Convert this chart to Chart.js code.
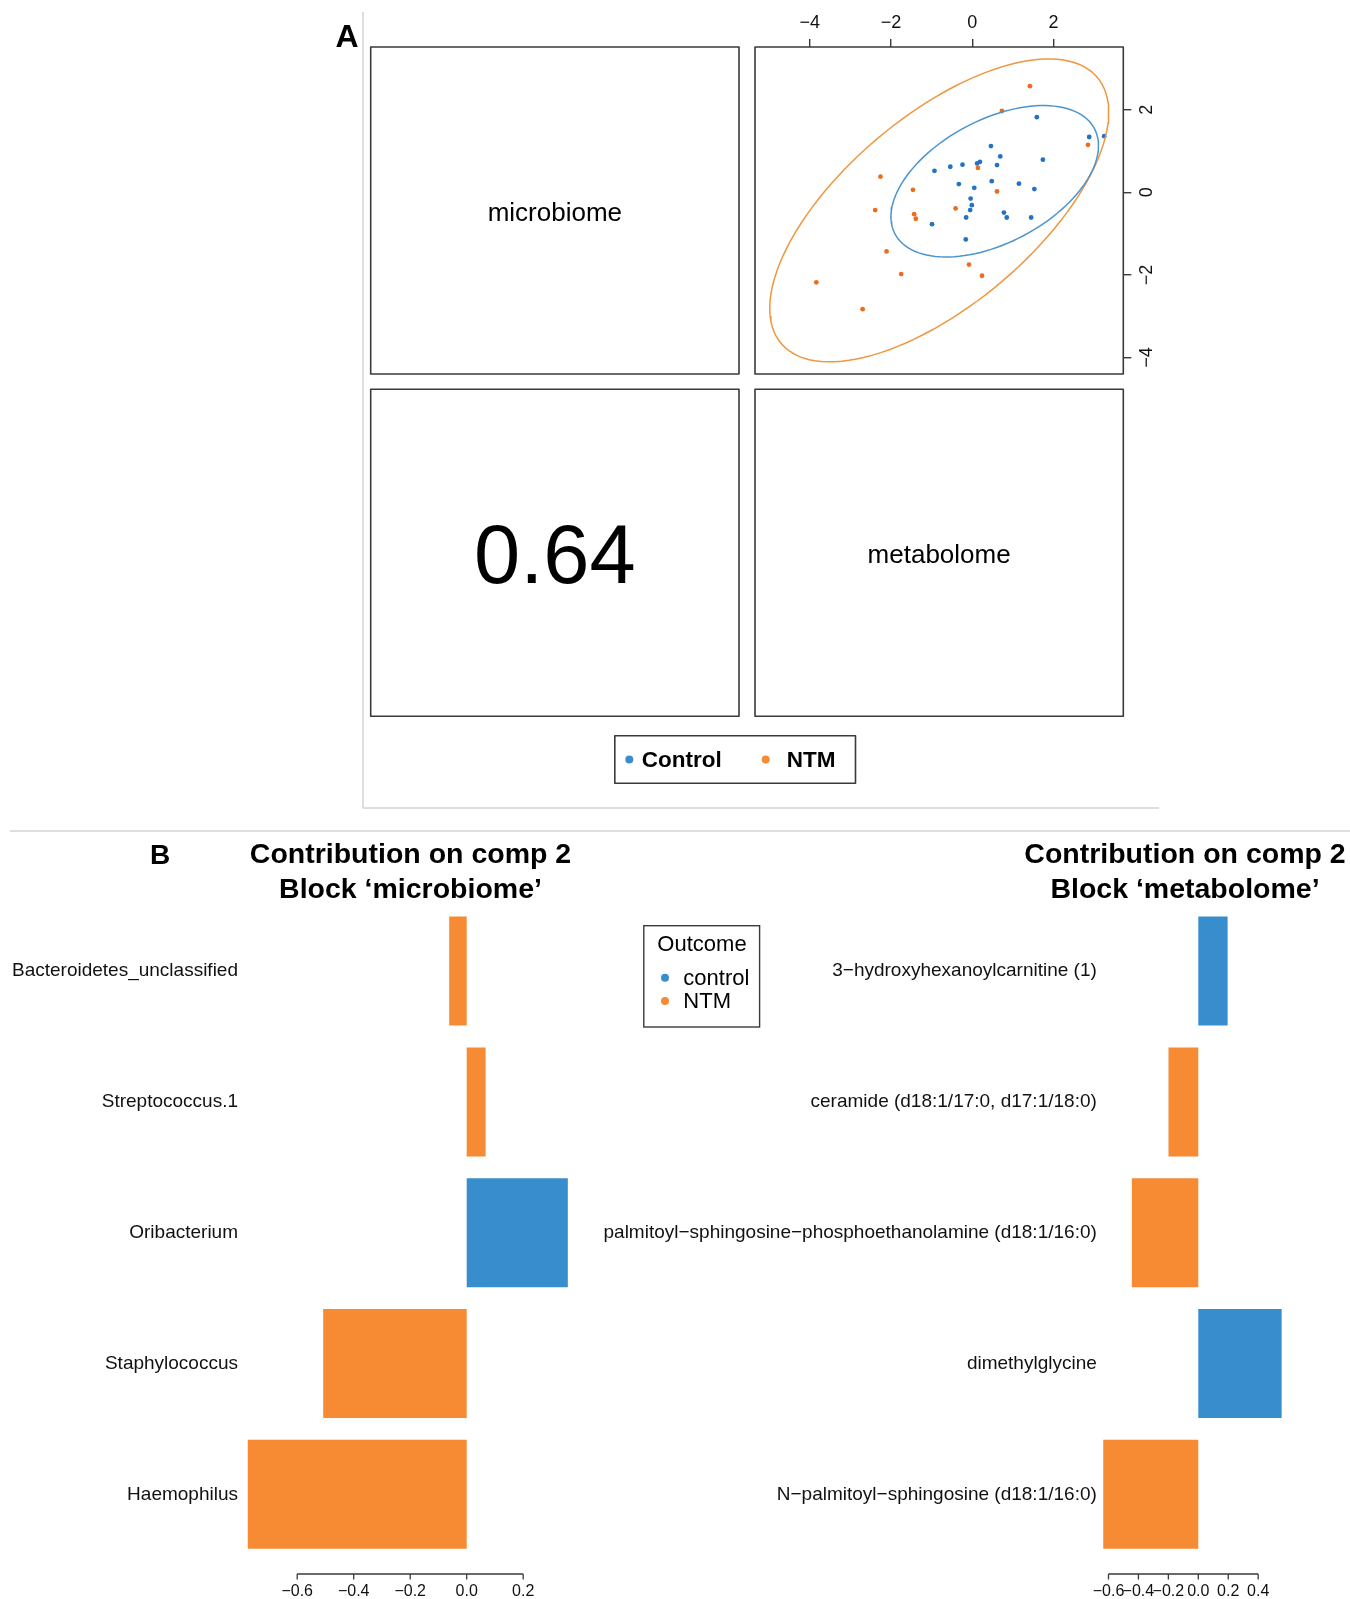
<!DOCTYPE html>
<html>
<head>
<meta charset="utf-8">
<title>DIABLO: block correlation and loadings on component 2</title>
<script src="https://cdn.jsdelivr.net/npm/chart.js@4.4.1/dist/chart.umd.min.js"></script>
<style>
  html, body { margin: 0; padding: 0; background: #fff; }
  body { width: 1350px; height: 1599px; position: relative; overflow: hidden; }
  canvas { position: absolute; }
  #cA { left: 0; top: 0; }
  #cL { left: 0; top: 835px; }
  #cR { left: 560px; top: 835px; }
</style>
</head>
<body>
<canvas id="cA" width="1350" height="840"></canvas>
<canvas id="cL" width="600" height="764"></canvas>
<canvas id="cR" width="790" height="764"></canvas>
<script>
// ---------------- data ----------------
// Panel A: sample scores, microbiome component (x) vs metabolome component (y)
const controlX = [1.59, 2.88, 3.25, 0.46, 0.69, 1.74, -0.93, -0.54, -0.24, 0.19, 0.12, 0.61, -0.33,
                  0.05, 0.48, 1.15, 1.53, -0.04, -0.01, -0.05, -0.15, 0.78, 0.85, 1.45, -0.99, -0.16];
const controlY = [1.82, 1.34, 1.36, 1.12, 0.87, 0.79, 0.52, 0.62, 0.67, 0.74, 0.70, 0.66, 0.20,
                  0.11, 0.27, 0.21, 0.08, -0.15, -0.31, -0.43, -0.61, -0.49, -0.61, -0.61, -0.77, -1.14];
const ntmX = [1.42, 0.73, 2.85, 0.14, -2.26, -1.46, 0.61, -2.39, -0.41, -1.43, -1.39, -2.11, -1.75,
              -0.08, 0.24, -3.84, -2.70];
const ntmY = [2.57, 1.97, 1.15, 0.59, 0.38, 0.06, 0.02, -0.43, -0.39, -0.53, -0.64, -1.43, -1.98,
              -1.75, -2.02, -2.18, -2.83];
const scatterTicks = [-4, -2, 0, 2];
const blockNames = ['microbiome', 'metabolome'];
const blockCorrelation = '0.64';
const legendGroups = ['Control', 'NTM'];

// Panel B: contributions on component 2
const microbeNames = ['Bacteroidetes_unclassified', 'Streptococcus.1', 'Oribacterium', 'Staphylococcus', 'Haemophilus'];
const microbeValues = [-0.062, 0.067, 0.358, -0.508, -0.775];
const microbeGroups = ['NTM', 'NTM', 'control', 'NTM', 'NTM'];
const microbeTicks = [-0.6, -0.4, -0.2, 0.0, 0.2];

const metabNames = ['3\u2212hydroxyhexanoylcarnitine (1)', 'ceramide (d18:1/17:0, d17:1/18:0)',
                    'palmitoyl\u2212sphingosine\u2212phosphoethanolamine (d18:1/16:0)', 'dimethylglycine',
                    'N\u2212palmitoyl\u2212sphingosine (d18:1/16:0)'];
const metabValues = [0.196, -0.199, -0.444, 0.557, -0.635];
const metabGroups = ['control', 'NTM', 'NTM', 'control', 'NTM'];
const metabTicks = [-0.6, -0.4, -0.2, 0.0, 0.2, 0.4];
const outcomeGroups = ['control', 'NTM'];

// ---------------- styles ----------------
const FONT = "'Liberation Sans', Arial, Helvetica, sans-serif";
Chart.defaults.font.family = FONT;
Chart.defaults.color = '#000';
const BLUE = '#388ECC', ORANGE = '#F68B33';
const groupColor = { control: BLUE, Control: BLUE, NTM: ORANGE };
const pointColor = { Control: '#2372c4', NTM: '#ec6d22' };
const ellipseColor = { Control: '#4a94cf', NTM: '#f0963e' };
const BOX = '#3a3a3a';

function font(size, bold) { return (bold ? 'bold ' : '') + size + 'px ' + FONT; }
function minus(s) { return String(s).replace('-', '\u2212'); }
function fmtInt(v) { return minus(v); }
function fmtDec(v) { return minus(Number(v).toFixed(1)); }
function zip(xs, ys) { return xs.map((x, i) => ({ x: x, y: ys[i] })); }

// 95% normal-theory ellipse of a group (same construction as ellipse::ellipse)
function groupEllipse(xs, ys, level, npts) {
  const n = xs.length;
  const mx = xs.reduce((a, b) => a + b, 0) / n;
  const my = ys.reduce((a, b) => a + b, 0) / n;
  let sxx = 0, syy = 0, sxy = 0;
  for (let i = 0; i < n; i++) {
    const dx = xs[i] - mx, dy = ys[i] - my;
    sxx += dx * dx; syy += dy * dy; sxy += dx * dy;
  }
  sxx /= (n - 1); syy /= (n - 1); sxy /= (n - 1);
  const sx = Math.sqrt(sxx), sy = Math.sqrt(syy), r = sxy / (sx * sy);
  const t = Math.sqrt(-2 * Math.log(1 - level));   // sqrt of chi-square quantile, 2 df
  const d = Math.acos(r);
  const out = [];
  for (let k = 0; k <= npts; k++) {
    const a = 2 * Math.PI * k / npts;
    out.push({ x: mx + t * sx * Math.cos(a + d / 2), y: my + t * sy * Math.cos(a - d / 2) });
  }
  return out;
}

// ---------------- panel A ----------------
const panelA = {
  id: 'panelA',
  afterDraw(chart) {
    const ctx = chart.ctx, ca = chart.chartArea;
    const w = ca.right - ca.left, h = ca.bottom - ca.top;
    const leftX = ca.left - 16 - w, lowY = ca.bottom + 15.3;
    ctx.save();
    // light frame of panel A and the rule above panel B
    ctx.strokeStyle = '#d4d4d4'; ctx.lineWidth = 1.5;
    ctx.beginPath(); ctx.moveTo(363, 12); ctx.lineTo(363, 808); ctx.lineTo(1159, 808); ctx.stroke();
    ctx.strokeStyle = '#dedede'; ctx.lineWidth = 2;
    ctx.beginPath(); ctx.moveTo(10, 831); ctx.lineTo(1350, 831); ctx.stroke();
    // the four panels of the block matrix
    ctx.strokeStyle = BOX; ctx.lineWidth = 1.6; ctx.lineJoin = 'round';
    [[ca.left, ca.top], [leftX, ca.top], [leftX, lowY], [ca.left, lowY]].forEach(p => ctx.strokeRect(p[0], p[1], w, h));
    ctx.fillStyle = '#000'; ctx.textAlign = 'center'; ctx.textBaseline = 'alphabetic';
    ctx.font = font(26);
    ctx.fillText(blockNames[0], leftX + w / 2, ca.top + h / 2 + 10.2);
    ctx.fillText(blockNames[1], ca.left + w / 2, lowY + h / 2 + 10.2);
    ctx.font = font(83);
    ctx.fillText(blockCorrelation, leftX + w / 2, lowY + h / 2 + 29.7);
    ctx.font = font(32, true);
    ctx.fillText('A', 347, 47);
    // legend
    ctx.lineWidth = 1.6; ctx.strokeStyle = BOX;
    ctx.strokeRect(614.8, 735.7, 240.7, 47.6);
    ctx.textAlign = 'left'; ctx.font = font(22.5, true);
    const lx = [[629.3, 641.7], [765.7, 786.7]];
    legendGroups.forEach((g, i) => {
      ctx.fillStyle = groupColor[g];
      ctx.beginPath(); ctx.arc(lx[i][0], 759.5, 4, 0, 2 * Math.PI); ctx.fill();
      ctx.fillStyle = '#000';
      ctx.fillText(g, lx[i][1], 767);
    });
    ctx.restore();
  }
};

const gridA = { display: true, drawOnChartArea: false, drawTicks: true, tickLength: 8, color: BOX, lineWidth: 1.4 };

new Chart(document.getElementById('cA'), {
  type: 'scatter',
  data: {
    datasets: [
      { label: 'Control ellipse', data: groupEllipse(controlX, controlY, 0.95, 120), showLine: true,
        borderColor: ellipseColor.Control, borderWidth: 1.5, pointRadius: 0, fill: false },
      { label: 'NTM ellipse', data: groupEllipse(ntmX, ntmY, 0.95, 120), showLine: true,
        borderColor: ellipseColor.NTM, borderWidth: 1.5, pointRadius: 0, fill: false },
      { label: 'Control', data: zip(controlX, controlY), pointRadius: 2.4, pointBorderWidth: 0,
        pointBackgroundColor: pointColor.Control, backgroundColor: pointColor.Control },
      { label: 'NTM', data: zip(ntmX, ntmY), pointRadius: 2.4, pointBorderWidth: 0,
        pointBackgroundColor: pointColor.NTM, backgroundColor: pointColor.NTM }
    ]
  },
  options: {
    responsive: false, animation: false, devicePixelRatio: 1,
    layout: { padding: { left: 755, top: 7, right: 186.7, bottom: 466 } },
    scales: {
      x: {
        type: 'linear', position: 'top', min: -5.35, max: 3.72,
        afterBuildTicks: s => { s.ticks = scatterTicks.map(v => ({ value: v })); },
        afterFit: s => { s.height = 40; },
        grid: gridA, border: { display: false },
        ticks: { padding: 5, font: { size: 18 }, color: '#111', maxRotation: 0, autoSkip: false, callback: fmtInt }
      },
      y: {
        type: 'linear', position: 'right', min: -4.40, max: 3.52,
        afterBuildTicks: s => { s.ticks = scatterTicks.map(v => ({ value: v })); },
        afterFit: s => { s.width = 40; },
        grid: gridA, border: { display: false },
        ticks: { padding: 5, font: { size: 18 }, color: '#111', minRotation: 90, maxRotation: 90,
                 crossAlign: 'center', autoSkip: false, callback: fmtInt }
      }
    },
    plugins: { legend: { display: false }, tooltip: { enabled: false } }
  },
  plugins: [panelA]
});

// ---------------- panel B ----------------
const barDecor = {
  id: 'barDecor',
  afterDraw(chart, args, o) {
    const ctx = chart.ctx, xs = chart.scales.x, ca = chart.chartArea;
    ctx.save();
    // R-style axis: line from first to last labelled tick, ticks pointing down
    const y0 = ca.bottom + 14.3;
    const px = xs.ticks.map(t => xs.getPixelForValue(t.value));
    ctx.strokeStyle = BOX; ctx.lineWidth = 1.3;
    ctx.beginPath();
    ctx.moveTo(px[0], y0); ctx.lineTo(px[px.length - 1], y0);
    px.forEach(p => { ctx.moveTo(p, y0); ctx.lineTo(p, y0 + 5.5); });
    ctx.stroke();
    // two-line title
    ctx.fillStyle = '#000'; ctx.textAlign = 'center'; ctx.textBaseline = 'alphabetic';
    ctx.font = font(28.5, true);
    o.title.forEach((line, i) => ctx.fillText(line, o.titleX - o.left, o.titleBase[i] - o.top));
    if (o.letter) {
      ctx.font = font(28, true);
      ctx.fillText(o.letter, 160 - o.left, 863.5 - o.top);
    }
    if (o.outcome) {
      const L = o.left, T = o.top;
      ctx.strokeStyle = BOX; ctx.lineWidth = 1.4;
      ctx.strokeRect(643.8 - L, 925.7 - T, 115.8, 101.3);
      ctx.font = font(22);
      ctx.fillText('Outcome', 702 - L, 950.7 - T);
      ctx.textAlign = 'left';
      const base = [985, 1008.3], cy = [977.7, 1001];
      outcomeGroups.forEach((g, i) => {
        ctx.fillStyle = groupColor[g];
        ctx.beginPath(); ctx.arc(665 - L, cy[i] - T, 4, 0, 2 * Math.PI); ctx.fill();
        ctx.fillStyle = '#000';
        ctx.fillText(g, 683.3 - L, base[i] - T);
      });
    }
    ctx.restore();
  }
};

function barChart(id, names, values, groups, ticks, xmin, xmax, yWidth, padRight, deco) {
  return new Chart(document.getElementById(id), {
    type: 'bar',
    data: {
      labels: names,
      datasets: [{
        data: values,
        backgroundColor: groups.map(g => groupColor[g]),
        borderWidth: 0,
        categoryPercentage: 1,
        barPercentage: 1 / 1.2
      }]
    },
    options: {
      indexAxis: 'y', responsive: false, animation: false, devicePixelRatio: 1,
      layout: { padding: { top: 70.7, right: padRight, bottom: 0, left: 0 } },
      scales: {
        x: {
          type: 'linear', min: xmin, max: xmax,
          afterBuildTicks: s => { s.ticks = ticks.map(v => ({ value: v })); },
          afterFit: s => { s.height = 39.3; },
          grid: { display: false, drawTicks: false }, border: { display: false },
          ticks: { padding: 22.4, font: { size: 16 }, color: '#111', maxRotation: 0, autoSkip: false, callback: fmtDec }
        },
        y: {
          afterFit: s => { s.width = yWidth; },
          grid: { display: false, drawTicks: false }, border: { display: false },
          ticks: { padding: 2.7, font: { size: 19 }, color: '#111', autoSkip: false }
        }
      },
      plugins: { legend: { display: false }, tooltip: { enabled: false }, barDecor: deco }
    },
    plugins: [barDecor]
  });
}

barChart('cL', microbeNames, microbeValues, microbeGroups, microbeTicks, -0.8, 0.4, 240.7, 20.3, {
  left: 0, top: 835, titleX: 410.5, titleBase: [862.5, 897.5],
  title: ['Contribution on comp 2', 'Block \u2018microbiome\u2019'], letter: 'B'
});
barChart('cR', metabNames, metabValues, metabGroups, metabTicks, -0.66, 0.6, 539.5, 61.9, {
  left: 560, top: 835, titleX: 1185, titleBase: [862.5, 897.5],
  title: ['Contribution on comp 2', 'Block \u2018metabolome\u2019'], outcome: true
});
</script>
</body>
</html>
